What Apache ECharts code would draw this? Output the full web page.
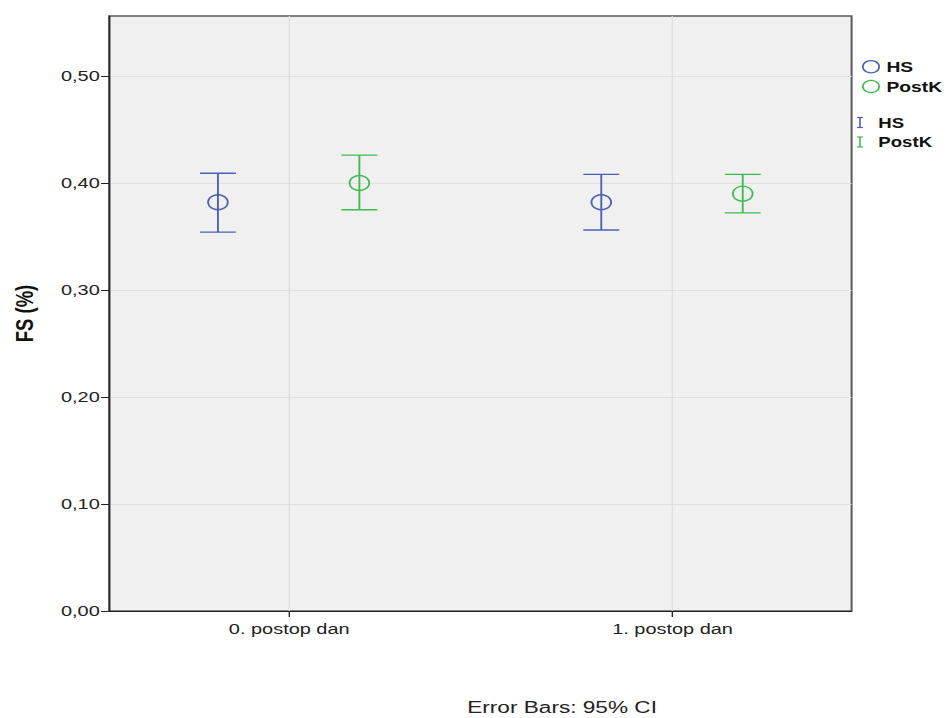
<!DOCTYPE html>
<html><head><meta charset="utf-8">
<script src="https://cdn.jsdelivr.net/npm/echarts@6/dist/echarts.min.js"></script>
<style>
html,body{margin:0;padding:0;background:#fff;overflow:hidden;}
#c{width:713.5px;height:718px;transform:scaleX(1.33);transform-origin:0 0;}
</style>
</head><body><div id="c"></div>
<script>
// ---- data ----
const categories = ['0. postop dan', '1. postop dan'];
const seriesNames = ['HS', 'PostK'];
const hsMean = [0.382, 0.382];
const hsLower = [0.354, 0.356];
const hsUpper = [0.409, 0.408];
const postkMean = [0.400, 0.390];
const postkLower = [0.375, 0.372];
const postkUpper = [0.426, 0.408];
const yTicks = [0, 0.1, 0.2, 0.3, 0.4, 0.5];
const yAxisName = 'FS (%)';
const footnote = 'Error Bars: 95% CI';

// ---- style ----
const colors = ['#4a60b8', '#3dbd4e'];
const dodge = [-0.186, 0.183];
const FONT = '"Liberation Sans", Arial, sans-serif';

function buildData(means, lows, highs, k) {
  return categories.map((c, i) => [i + dodge[k], means[i], lows[i], highs[i]]);
}
function renderErr(color) {
  return function (params, api) {
    const x = api.value(0);
    const m = api.coord([x, api.value(1)]);
    const lo = api.coord([x, api.value(2)]);
    const hi = api.coord([x, api.value(3)]);
    const hw = 13.5;
    const st = { stroke: color, lineWidth: 1.4, fill: null };
    return {
      type: 'group',
      children: [
        { type: 'line', shape: { x1: m[0], y1: hi[1], x2: m[0], y2: lo[1] }, style: st },
        { type: 'line', shape: { x1: m[0] - hw, y1: hi[1], x2: m[0] + hw, y2: hi[1] }, style: st },
        { type: 'line', shape: { x1: m[0] - hw, y1: lo[1], x2: m[0] + hw, y2: lo[1] }, style: st },
        { type: 'circle', shape: { cx: m[0], cy: m[1], r: 7.4 }, style: { stroke: color, lineWidth: 1.4, fill: 'none' } }
      ]
    };
  };
}

const chart = echarts.init(document.getElementById('c'), null, { renderer: 'svg' });

const legendItems = [];
const circY = [66.7, 86.5];
const barY = [122.5, 142];
seriesNames.forEach((n, k) => {
  legendItems.push({ type: 'circle', shape: { cx: 654.9, cy: circY[k], r: 6.1 }, style: { stroke: colors[k], lineWidth: 1.3, fill: 'none' } });
  legendItems.push({ type: 'text', x: 666.5, y: circY[k] + 0.5, style: { text: n, font: 'bold 14.5px ' + FONT, fill: '#111', verticalAlign: 'middle', align: 'left' } });
});
seriesNames.forEach((n, k) => {
  const y = barY[k];
  const cx = 646.6;
  legendItems.push({ type: 'line', shape: { x1: cx, y1: y - 5, x2: cx, y2: y + 5 }, style: { stroke: colors[k], lineWidth: 1.2 } });
  legendItems.push({ type: 'line', shape: { x1: cx - 2.2, y1: y - 5, x2: cx + 2.2, y2: y - 5 }, style: { stroke: colors[k], lineWidth: 1.2 } });
  legendItems.push({ type: 'line', shape: { x1: cx - 2.2, y1: y + 5, x2: cx + 2.2, y2: y + 5 }, style: { stroke: colors[k], lineWidth: 1.2 } });
  legendItems.push({ type: 'text', x: 660.4, y: y, style: { text: n, font: 'bold 14px ' + FONT, fill: '#111', verticalAlign: 'middle', align: 'left' } });
});
legendItems.push({ type: 'text', x: 422.6, y: 707.5, style: { text: footnote, font: '17px ' + FONT, fill: '#222', align: 'center', verticalAlign: 'middle' } });

chart.setOption({
  animation: false,
  backgroundColor: '#ffffff',
  grid: { left: 82, right: 73.7, top: 16, bottom: 107, outerBoundsMode: 'none', containLabel: false, show: true, backgroundColor: '#f0f0f0', borderColor: '#5a5a5a', borderWidth: 1.5 },
  xAxis: {
    type: 'value', min: -0.47, max: 1.467,
    axisLine: { show: true, onZero: false, lineStyle: { color: '#222', width: 1 } },
    axisTick: { show: true, length: 6, customValues: [0, 1], lineStyle: { color: '#222' } },
    axisLabel: { customValues: [0, 1], formatter: v => categories[Math.round(v)] || '', color: '#222', fontSize: 15, fontFamily: FONT, margin: 10 },
    splitLine: { show: true, lineStyle: { color: '#e0e0e0', width: 1 } }
  },
  yAxis: {
    type: 'value', min: 0, max: 0.556, interval: 0.1,
    name: yAxisName, nameLocation: 'middle', nameRotate: 90, nameGap: 54,
    nameTextStyle: { fontSize: 18.5, fontWeight: 'bold', fontFamily: FONT, color: '#111' },
    axisLine: { show: true, onZero: false, lineStyle: { color: '#222', width: 1 } },
    axisTick: { show: true, length: 6, customValues: yTicks, lineStyle: { color: '#222' } },
    axisLabel: { customValues: yTicks, formatter: v => v.toFixed(2).replace('.', ','), color: '#222', fontSize: 15, fontFamily: FONT, margin: 7 },
    splitLine: { show: true, lineStyle: { color: '#e0e0e0', width: 1 } }
  },
  graphic: legendItems,
  series: [
    { name: seriesNames[0], type: 'custom', renderItem: renderErr(colors[0]), data: buildData(hsMean, hsLower, hsUpper, 0), encode: { x: 0, y: [1, 2, 3] } },
    { name: seriesNames[1], type: 'custom', renderItem: renderErr(colors[1]), data: buildData(postkMean, postkLower, postkUpper, 1), encode: { x: 0, y: [1, 2, 3] } }
  ]
});
</script>
</body></html>
